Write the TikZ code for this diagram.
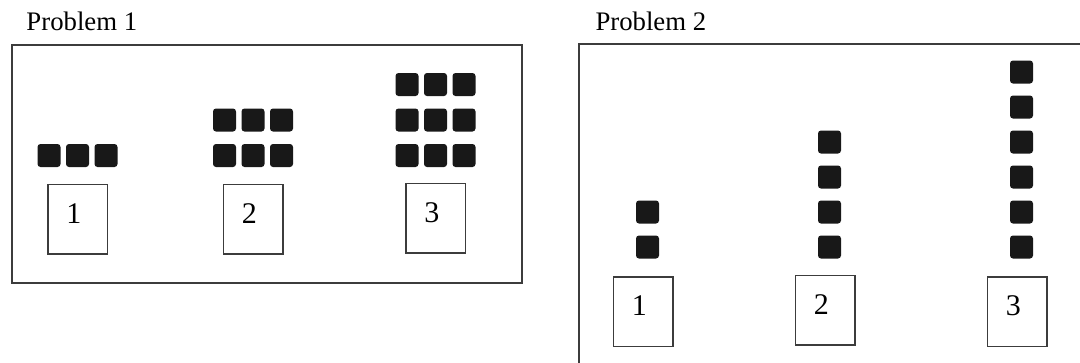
\documentclass[tikz,border=0pt]{standalone}
\usepackage{fontspec}
\setmainfont{Liberation Serif}
\definecolor{framegray}{RGB}{60,60,60}
\definecolor{tileblack}{RGB}{24,24,24}

\begin{document}
\begin{tikzpicture}[x=0.4pt, y=-0.4pt,
		tile/.style={rectangle, fill=tileblack, rounded corners=1.2pt, minimum size=9.2pt, inner sep=0pt},
		numbox/.style={rectangle, draw=framegray, line width=0.6pt, minimum width=23.8pt, minimum height=27.8pt, inner sep=0pt, text depth=4.6pt, font=\fontsize{12}{14}\selectfont},
		title/.style={anchor=base west, inner sep=0pt, font=\fontsize{10.7}{13}\selectfont},
		frame/.style={draw=framegray, line width=0.8pt}]
	\useasboundingbox (0,0) rectangle (1080,362);
	\clip (0,0) rectangle (1080,362);
	
	\node[title] (title1) at (26,30) {Problem 1};
	\node[title] (title2) at (595,30) {Problem 2};
	\draw[frame] (12,45) rectangle (522,283);
	\draw[frame] (579,380) |- (1100,44);
	
	\foreach \k/\cx/\cy in {1/77.5/219, 2/253/219, 3/435.5/218}{
		\node[numbox] (boxa\k) at (\cx,\cy) {\k\hspace*{3pt}};
		\foreach \r in {1,...,\k}
			\foreach \c in {-1,0,1}
				\node[tile] (tilea\k\r\c) at ({\cx+28.5*\c},{191-35.5*\r}) {};
	}
	
	\foreach \k/\cx/\cy/\n in {1/643/311.5/2, 2/825/310/4, 3/1017/311.5/6}{
		\node[numbox] (boxb\k) at (\cx,\cy) {\k\hspace*{3pt}};
		\foreach \r in {1,...,\n}
			\node[tile] (tileb\k\r) at ({\cx+4.5},{282-35*\r}) {};
	}
\end{tikzpicture}
\end{document}
